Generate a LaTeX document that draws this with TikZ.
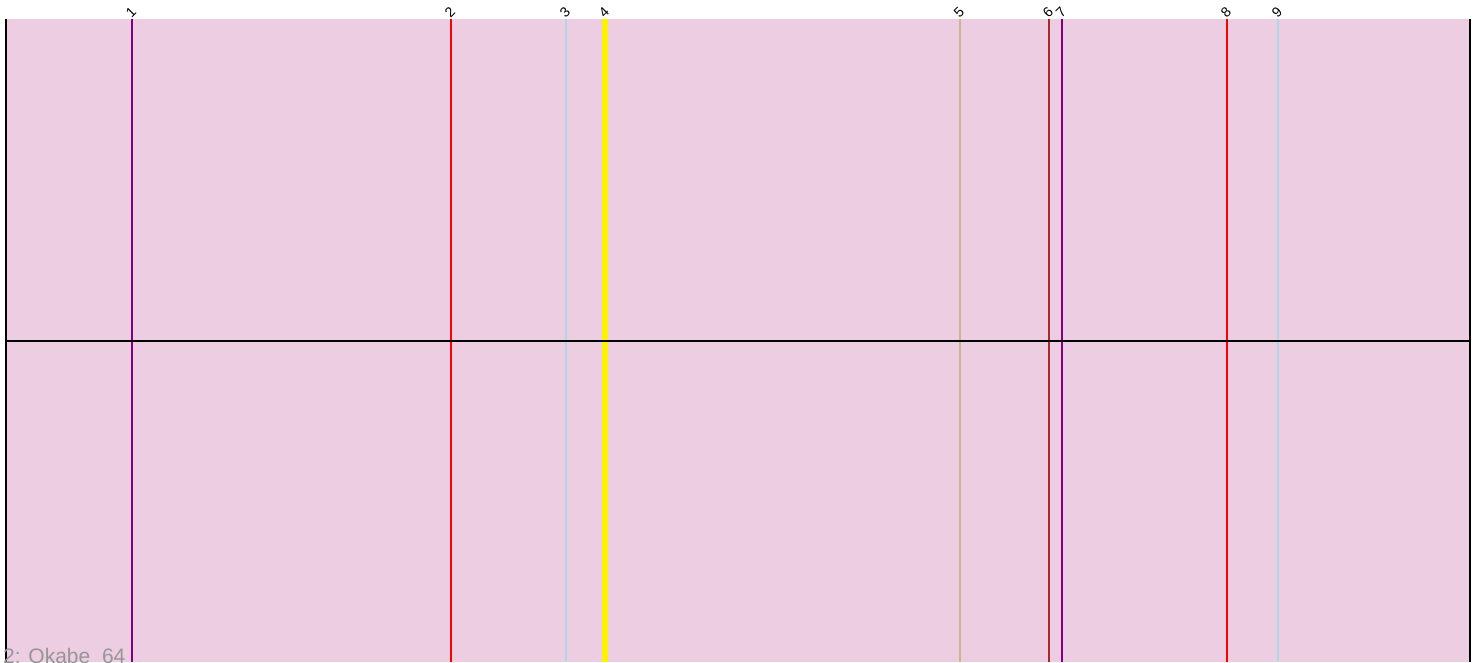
\documentclass[tikz,border=0pt]{standalone}
\usepackage{fontspec}
\setmainfont{Liberation Sans}
\definecolor{bgpink}{RGB}{237,205,225}
\definecolor{lblue}{RGB}{173,216,230}
\definecolor{tanc}{RGB}{210,180,140}
\definecolor{brownc}{RGB}{165,42,42}
\definecolor{purp}{RGB}{128,0,128}
\definecolor{graytxt}{RGB}{150,150,150}
\tikzset{
  gene/.style={line width=2pt},
  frame/.style={line width=2pt, black},
  lbl/.style={rotate=45, font=\fontsize{14}{16}\selectfont, inner sep=0pt, anchor=center}
}
\begin{document}
\begin{tikzpicture}[x=1pt,y=-1pt]
\useasboundingbox (0,0) rectangle (1482,662);
\fill[bgpink] (5,19) rectangle (1470,662);
% genes
\foreach \xx/\cc/\ww/\nm in {132/purp/2/1, 451/red/2/2, 566/lblue/2/3, 605/yellow/6/4, 960/tanc/2/5, 1049/brownc/2/6, 1062/purp/2/7, 1227/red/2/8, 1278/lblue/2/9}{
  \coordinate (t\nm) at (\xx,19);
  \coordinate (b\nm) at (\xx,662);
  \draw[\cc, line width=\ww pt] (t\nm) -- (b\nm);
  \node[lbl] (l\nm) at (\xx-1,12) {\nm};
}
\coordinate (tl) at (6,19);
\coordinate (bl) at (6,662);
\coordinate (tr) at (1470,19);
\coordinate (br) at (1470,662);
\coordinate (ml) at (6,341);
\coordinate (mr) at (1470,341);
\draw[frame] (tl) -- (bl);
\draw[frame] (tr) -- (br);
\draw[frame] (ml) -- (mr);
\node[anchor=base west, inner sep=0pt, text=graytxt, font=\fontsize{21}{24}\selectfont] (title) at (3,663) {2: Okabe\_64};
\end{tikzpicture}
\end{document}
